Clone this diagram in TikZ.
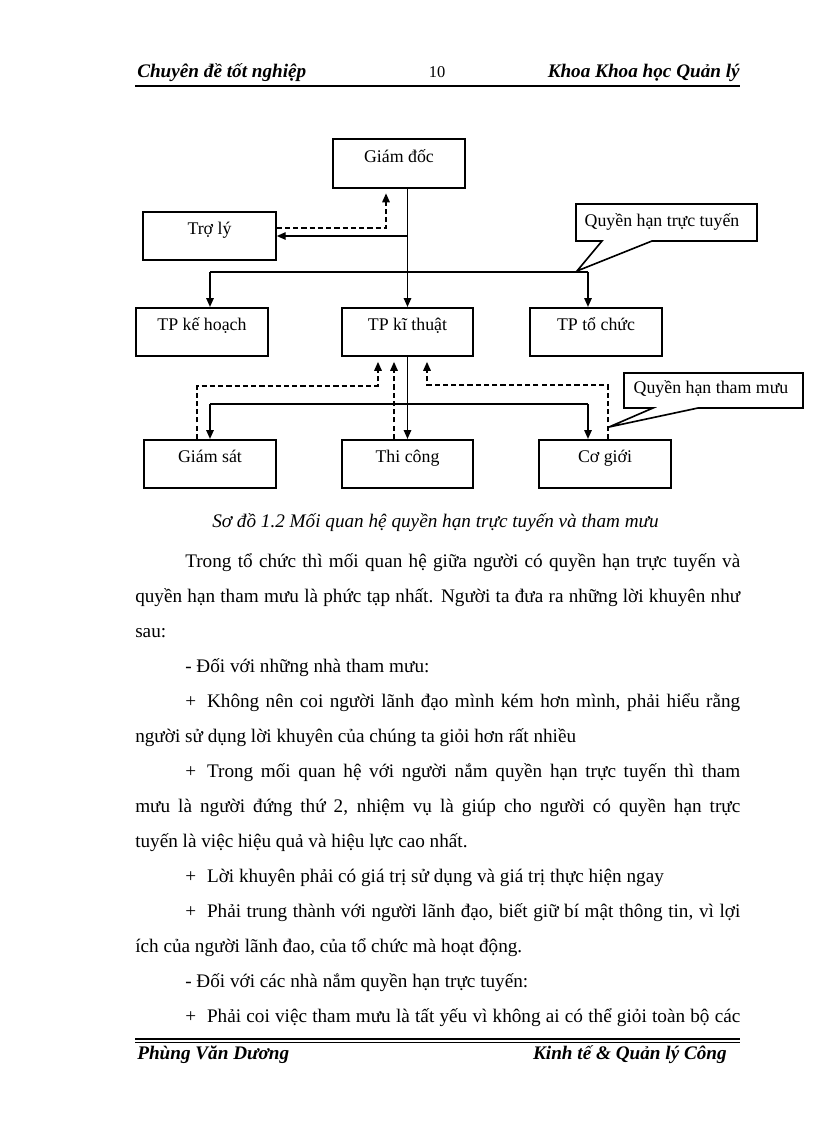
\documentclass[tikz,border=0pt]{standalone}
\usepackage{fontspec}
\setmainfont{Liberation Serif}
\usetikzlibrary{arrows.meta,calc}
\def\pxl{0.7295pt}
\newdimen\pxd \pxd=0.7295pt
\newcommand{\jfirst}[1]{\makebox[555\pxd][s]{#1}}
\newcommand{\jfull}[1]{\makebox[605\pxd][s]{#1}}
\begin{document}
\begin{tikzpicture}[x=0.7295pt,y=-0.7295pt,
  box/.style={draw, line width=1.2pt, inner sep=0pt, minimum width=132*\pxl,
    text height=23*\pxl, text depth=25.5*\pxl, font=\fontsize{13}{15}\selectfont},
  ln/.style={line width=1pt},
  dsh/.style={line width=1pt, dash pattern=on 3.8pt off 2.2pt},
  arr/.style={-{Triangle[length=6.5pt,width=5.5pt]}},
  gap/.style={shorten >=3.5pt},
  callout/.style={draw, line width=1.2pt, fill=white, line join=miter},
  lbl/.style={inner sep=0pt, anchor=base, font=\fontsize{13}{15}\selectfont},
  body/.style={inner sep=0pt, anchor=base west, font=\fontsize{14}{17}\selectfont},
  hdr/.style={inner sep=0pt, anchor=base west, font=\fontsize{14}{17}\selectfont\bfseries\itshape}
]
\useasboundingbox (0,0) rectangle (816,1123);

% header
\node[hdr] (h1) at (137,77) {Chuyên đề tốt nghiệp};
\node[inner sep=0pt, anchor=base, font=\fontsize{12}{14}\selectfont] (pg) at (437,77) {10};
\node[hdr, anchor=base east] (h2) at (740,77) {Khoa Khoa học Quản lý};
\draw[line width=1.6pt] (135,86) -- (740,86);

% boxes
\node[box] (GD) at (399,163.5) {Giám đốc};
\node[box, minimum width=133*\pxl] (TL) at (209.5,236) {Trợ lý};
\node[box] (KH) at (202,332) {TP kế hoạch};
\node[box, minimum width=131*\pxl] (KT) at (407.5,332) {TP kĩ thuật};
\node[box] (TC) at (596,332) {TP tổ chức};
\node[box] (GS) at (210,464) {Giám sát};
\node[box, minimum width=131*\pxl] (TCo) at (407.5,464) {Thi công};
\node[box] (CG) at (605,464) {Cơ giới};

% upper connectors
\draw[ln, arr] (GD.south -| KT.north) -- (KT.north);
\draw[ln, arr] (TL.east -| KT.north) -- (TL.east);
\draw[dsh, arr, gap] ($(TL.east)+(0,-8)$) -| ($(GD.south)+(-13,0)$);
\coordinate (bl) at (210,272);
\coordinate (br) at (588,272);
\draw[ln] (bl) -- (br);
\draw[ln, arr] (bl) -- (bl |- KH.north);
\draw[ln, arr] (br) -- (br |- TC.north);

% lower connectors
\draw[ln, arr] (KT.south) -- (TCo.north);
\coordinate (cl) at (210,404);
\coordinate (cr) at (588,404);
\draw[ln] (cl) -- (cr);
\draw[ln, arr] (cl) -- (cl |- GS.north);
\draw[ln, arr] (cr) -- (cr |- CG.north);
\draw[dsh, arr, gap] ($(GS.north)+(-13,0)$) |- ($(KT.south)+(-29.5,29)$) -- ($(KT.south)+(-29.5,0)$);
\draw[dsh, arr, gap] ($(TCo.north)+(-13.5,0)$) -- ($(KT.south)+(-13.5,0)$);
\draw[dsh, arr, gap] ($(CG.north)+(3,0)$) |- ($(KT.south)+(19.5,28)$) -- ($(KT.south)+(19.5,0)$);

% callouts
\draw[callout] (576,204) -- (757,204) -- (757,241) -- (652,241) -- (577,271) -- (602,241) -- (576,241) -- cycle;
\node[lbl] (q1) at (662,226) {Quyền hạn trực tuyến};
\draw[callout] (624,373) -- (803,373) -- (803,408) -- (698,408) -- (609,427) -- (653,408) -- (624,408) -- cycle;
\node[lbl] (q2) at (711,393) {Quyền hạn tham mưu};

% caption
\node[inner sep=0pt, anchor=base, font=\fontsize{14}{17}\selectfont\itshape] (cap) at (435.5,527) {Sơ đồ 1.2 Mối quan hệ quyền hạn trực tuyến và tham mưu};

% body
\node[body] (t1) at (185,567) {\jfirst{Trong tổ chức thì mối quan hệ giữa người có quyền hạn trực tuyến và}};
\node[body] (t2) at (135,602) {\jfull{quyền hạn tham mưu là phức tạp nhất. Người ta đưa ra những lời khuyên như}};
\node[body] (t3) at (135,637) {sau:};
\node[body] (t4) at (185,672) {- Đối với những nhà tham mưu:};
\node[body] (t5) at (185,707) {\jfirst{+\hspace{8pt}Không nên coi người lãnh đạo mình kém hơn mình, phải hiểu rằng}};
\node[body] (t6) at (135,742) {người sử dụng lời khuyên của chúng ta giỏi hơn rất nhiều};
\node[body] (t7) at (185,777) {\jfirst{+\hspace{8pt}Trong mối quan hệ với người nắm quyền hạn trực tuyến thì tham}};
\node[body] (t8) at (135,812) {\jfull{mưu là người đứng thứ 2, nhiệm vụ là giúp cho người có quyền hạn trực}};
\node[body] (t9) at (135,847) {tuyến là việc hiệu quả và hiệu lực cao nhất.};
\node[body] (t10) at (185,882) {+\hspace{8pt}Lời khuyên phải có giá trị sử dụng và giá trị thực hiện ngay};
\node[body] (t11) at (185,917) {\jfirst{+\hspace{8pt}Phải trung thành với người lãnh đạo, biết giữ bí mật thông tin, vì lợi}};
\node[body] (t12) at (135,952) {ích của người lãnh đao, của tổ chức mà hoạt động.};
\node[body] (t13) at (185,987) {- Đối với các nhà nắm quyền hạn trực tuyến:};
\node[body] (t14) at (185,1022) {\jfirst{+\hspace{8pt}Phải coi việc tham mưu là tất yếu vì không ai có thể giỏi toàn bộ các}};

% footer
\draw[line width=1.2pt] (135,1039) -- (740,1039);
\draw[line width=0.6pt] (135,1042.5) -- (740,1042.5);
\node[hdr] (f1) at (137,1059) {Phùng Văn Dương};
\node[hdr, anchor=base east] (f2) at (727,1059) {Kinh tế \& Quản lý Công};
\end{tikzpicture}
\end{document}
